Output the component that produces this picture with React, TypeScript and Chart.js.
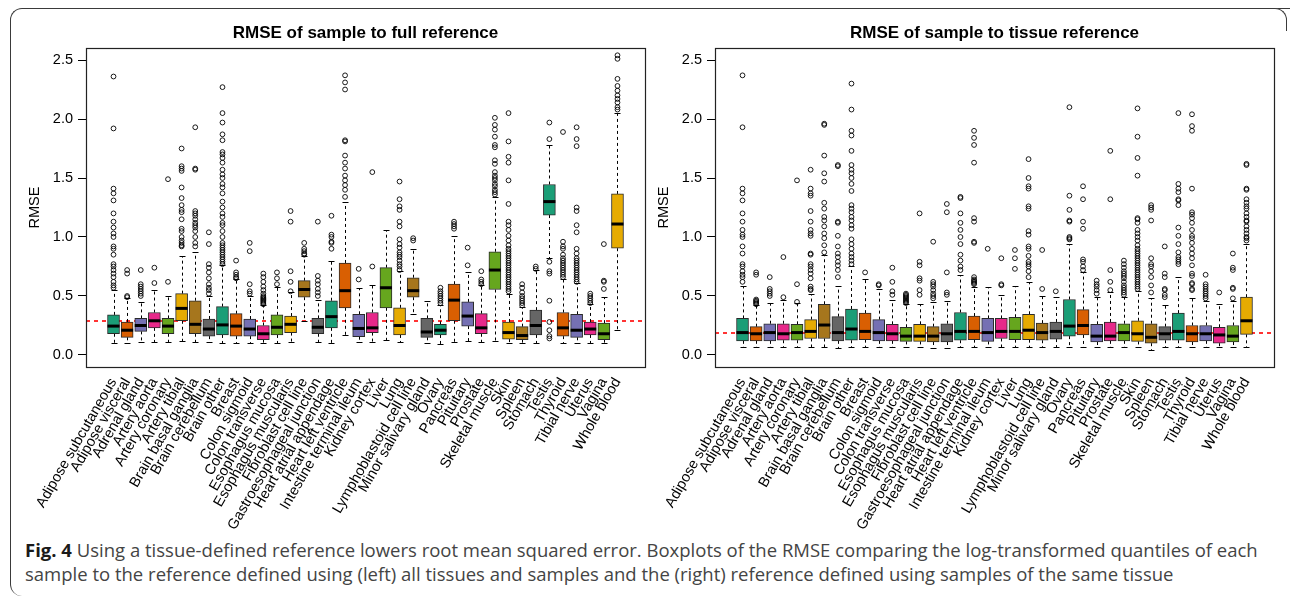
import React, { useEffect, useRef } from "react";
import { Chart, registerables } from "chart.js";
Chart.register(...registerables);

const tissues = [
  "Adipose subcutaneous", "Adipose visceral", "Adrenal gland", "Artery aorta", "Artery coronary",
  "Artery tibial", "Brain basal ganglia", "Brain cerebellum", "Brain other", "Breast",
  "Colon sigmoid", "Colon transverse", "Esophagus mucosa", "Esophagus muscularis", "Fibroblast cell line",
  "Gastroesophageal junction", "Heart atrial appendage", "Heart left ventricle", "Intestine terminal ileum", "Kidney cortex",
  "Liver", "Lung", "Lymphoblastoid cell line", "Minor salivary gland", "Ovary",
  "Pancreas", "Pituitary", "Prostate", "Skeletal muscle", "Skin",
  "Spleen", "Stomach", "Testis", "Thyroid", "Tibial nerve",
  "Uterus", "Vagina", "Whole blood",
];

const palette = ["#1B9E77", "#D95F02", "#7570B3", "#E7298A", "#66A61E", "#E6AB02", "#A6761D", "#666666"];

const yTicks = [0, 0.5, 1, 1.5, 2, 2.5];

// ---------- Left panel: sample to full reference ----------
const fullQ1 = [0.18, 0.15, 0.20, 0.23, 0.18, 0.29, 0.18, 0.16, 0.17, 0.16, 0.16, 0.13, 0.17, 0.19, 0.49, 0.18, 0.23, 0.40, 0.155, 0.19, 0.40, 0.17, 0.49, 0.15, 0.17, 0.29, 0.245, 0.18, 0.555, 0.135, 0.13, 0.17, 1.186, 0.16, 0.15, 0.17, 0.13, 0.905];
const fullMedian = [0.245, 0.21, 0.25, 0.29, 0.245, 0.395, 0.26, 0.22, 0.255, 0.245, 0.22, 0.18, 0.235, 0.26, 0.555, 0.235, 0.325, 0.545, 0.225, 0.23, 0.57, 0.25, 0.545, 0.195, 0.21, 0.465, 0.33, 0.23, 0.72, 0.19, 0.165, 0.25, 1.30, 0.23, 0.21, 0.22, 0.18, 1.11];
const fullQ3 = [0.34, 0.28, 0.31, 0.36, 0.31, 0.52, 0.46, 0.305, 0.41, 0.35, 0.305, 0.25, 0.34, 0.33, 0.63, 0.31, 0.46, 0.78, 0.345, 0.36, 0.74, 0.40, 0.655, 0.31, 0.26, 0.60, 0.45, 0.35, 0.875, 0.28, 0.24, 0.38, 1.445, 0.36, 0.345, 0.28, 0.27, 1.365];
const fullLow = [0.10, 0.10, 0.11, 0.11, 0.11, 0.12, 0.11, 0.11, 0.10, 0.10, 0.10, 0.10, 0.10, 0.11, 0.29, 0.11, 0.10, 0.17, 0.11, 0.11, 0.13, 0.11, 0.35, 0.10, 0.09, 0.11, 0.12, 0.11, 0.12, 0.10, 0.10, 0.10, 0.82, 0.10, 0.10, 0.10, 0.10, 0.21];
const fullHigh = [0.55, 0.48, 0.45, 0.55, 0.50, 0.84, 0.875, 0.50, 0.76, 0.64, 0.50, 0.42, 0.58, 0.53, 0.84, 0.47, 0.80, 1.30, 0.57, 0.59, 1.06, 0.71, 0.90, 0.46, 0.42, 1.01, 0.70, 0.59, 1.34, 0.52, 0.41, 0.72, 1.78, 0.64, 0.61, 0.43, 0.49, 2.05];
const fullOutliers = [
  [0.57, 0.59, 0.62, 0.66, 0.69, 0.72, 0.75, 0.77, 0.85, 0.90, 0.92, 1.00, 1.03, 1.08, 1.13, 1.20, 1.31, 1.37, 1.41, 1.92, 2.36],
  [0.49, 0.50, 0.69, 0.72],
  [0.50, 0.52, 0.54, 0.56, 0.58, 0.60, 0.72],
  [0.61, 0.74],
  [0.62, 1.49],
  [0.92, 0.93, 0.95, 0.97, 1.00, 1.05, 1.07, 1.15, 1.21, 1.23, 1.27, 1.33, 1.42, 1.56, 1.58, 1.60, 1.75],
  [0.92, 0.95, 1.00, 1.05, 1.08, 1.10, 1.12, 1.15, 1.18, 1.20, 1.22, 1.57, 1.58, 1.93],
  [0.52, 0.55, 0.57, 0.60, 0.65, 0.70, 0.74, 0.77, 0.94, 1.04],
  [0.77, 0.79, 0.81, 0.83, 0.85, 0.87, 0.89, 0.91, 0.93, 0.95, 1.00, 1.05, 1.10, 1.12, 1.17, 1.20, 1.25, 1.30, 1.37, 1.42, 1.45, 1.50, 1.53, 1.57, 1.63, 1.67, 1.70, 1.72, 1.82, 1.87, 1.97, 2.05, 2.27],
  [0.65, 0.66, 0.68, 0.70, 0.80],
  [0.52, 0.54, 0.60, 0.88, 0.95],
  [0.43, 0.44, 0.45, 0.46, 0.47, 0.48, 0.49, 0.50, 0.52, 0.55, 0.58, 0.62, 0.66, 0.69],
  [0.60, 0.65, 0.70],
  [0.54, 0.62, 0.71, 1.13, 1.22],
  [0.85, 0.86, 0.88, 0.90, 0.95],
  [0.50, 0.53, 0.56, 0.60, 0.63, 0.67, 1.13],
  [0.90, 0.95, 0.96, 1.00, 1.02, 1.18],
  [1.34, 1.40, 1.44, 1.48, 1.52, 1.58, 1.63, 1.69, 1.81, 1.82, 2.25, 2.31, 2.37],
  [0.64, 0.73],
  [0.75, 1.55],
  [],
  [0.72, 0.75, 0.77, 0.80, 0.83, 0.85, 0.87, 0.91, 0.94, 0.98, 1.09, 1.13, 1.23, 1.26, 1.32, 1.47],
  [0.97, 0.99],
  [],
  [0.44, 0.46, 0.48, 0.50, 0.52, 0.54, 0.57],
  [1.07, 1.09, 1.11, 1.13],
  [0.76, 0.91],
  [0.60, 0.62, 0.64, 0.71],
  [1.36, 1.38, 1.40, 1.43, 1.45, 1.48, 1.50, 1.52, 1.55, 1.62, 1.65, 1.76, 1.78, 1.85, 1.91, 1.95, 2.01],
  [0.54, 0.56, 0.58, 0.60, 0.62, 0.64, 0.66, 0.68, 0.70, 0.72, 0.74, 0.76, 0.78, 0.80, 0.82, 0.84, 0.86, 0.88, 0.90, 0.93, 0.97, 1.01, 1.06, 1.10, 1.13, 1.28, 1.48, 1.63, 1.68, 1.81, 2.05],
  [0.42, 0.44, 0.46, 0.48, 0.50, 0.53, 0.57, 0.60],
  [0.73, 0.75],
  [0.14, 0.16, 0.21, 0.28, 0.46, 0.69, 0.71, 0.79, 1.83, 1.97],
  [0.66, 0.68, 0.70, 0.72, 0.74, 0.76, 0.78, 0.80, 0.82, 0.85, 0.90, 0.92, 0.96, 1.89],
  [0.62, 0.64, 0.66, 0.68, 0.70, 0.72, 0.74, 0.76, 0.78, 0.80, 0.82, 0.86, 0.90, 1.04, 1.10, 1.22, 1.25, 1.77, 1.83, 1.93],
  [0.44, 0.46, 0.48, 0.50, 0.52],
  [0.56, 0.62, 0.63, 0.94],
  [2.08, 2.10, 2.14, 2.17, 2.20, 2.24, 2.28, 2.34, 2.51, 2.54],
];
const fullRefLine = 0.29;

// ---------- Right panel: sample to tissue reference ----------
const tissueQ1 = [0.12, 0.12, 0.12, 0.125, 0.125, 0.14, 0.14, 0.12, 0.125, 0.13, 0.12, 0.12, 0.115, 0.115, 0.11, 0.11, 0.125, 0.13, 0.115, 0.14, 0.13, 0.13, 0.125, 0.135, 0.16, 0.17, 0.11, 0.12, 0.12, 0.115, 0.10, 0.125, 0.125, 0.11, 0.12, 0.10, 0.11, 0.175];
const tissueMedian = [0.19, 0.18, 0.19, 0.18, 0.19, 0.20, 0.254, 0.19, 0.22, 0.20, 0.19, 0.18, 0.16, 0.16, 0.16, 0.18, 0.20, 0.20, 0.19, 0.20, 0.20, 0.21, 0.19, 0.20, 0.245, 0.25, 0.16, 0.16, 0.19, 0.18, 0.15, 0.18, 0.20, 0.18, 0.18, 0.17, 0.16, 0.29];
const tissueQ3 = [0.31, 0.24, 0.265, 0.265, 0.26, 0.30, 0.43, 0.325, 0.39, 0.355, 0.30, 0.26, 0.235, 0.26, 0.24, 0.265, 0.36, 0.33, 0.31, 0.31, 0.32, 0.345, 0.27, 0.28, 0.47, 0.385, 0.26, 0.28, 0.265, 0.29, 0.265, 0.24, 0.355, 0.25, 0.25, 0.235, 0.25, 0.49];
const tissueLow = [0.065, 0.065, 0.065, 0.065, 0.07, 0.07, 0.07, 0.06, 0.065, 0.065, 0.065, 0.065, 0.065, 0.065, 0.06, 0.06, 0.065, 0.065, 0.065, 0.065, 0.065, 0.065, 0.065, 0.07, 0.07, 0.065, 0.065, 0.065, 0.065, 0.065, 0.04, 0.065, 0.065, 0.065, 0.065, 0.065, 0.065, 0.07];
const tissueHigh = [0.585, 0.42, 0.44, 0.47, 0.44, 0.52, 0.85, 0.585, 0.75, 0.64, 0.56, 0.47, 0.43, 0.43, 0.45, 0.46, 0.68, 0.58, 0.58, 0.51, 0.585, 0.62, 0.50, 0.49, 0.94, 0.70, 0.49, 0.53, 0.49, 0.54, 0.48, 0.42, 0.66, 0.48, 0.46, 0.43, 0.46, 0.94];
const tissueOutliers = [
  [0.62, 0.66, 0.68, 0.71, 0.75, 0.77, 0.86, 0.92, 1.00, 1.02, 1.06, 1.13, 1.20, 1.31, 1.37, 1.41, 1.93, 2.37],
  [0.43, 0.44, 0.45, 0.46, 0.47, 0.68, 0.70],
  [0.50, 0.52, 0.54, 0.56, 0.66],
  [0.49, 0.83],
  [0.45, 0.60, 1.48],
  [0.55, 0.56, 0.58, 0.65, 0.69, 0.72, 0.75, 0.77, 0.85, 0.86, 1.01, 1.03, 1.06, 1.13, 1.22, 1.35, 1.37, 1.41, 1.57],
  [0.87, 0.93, 0.99, 1.03, 1.09, 1.14, 1.17, 1.24, 1.29, 1.47, 1.54, 1.69, 1.95, 1.96],
  [0.66, 0.72, 0.76, 0.79, 0.83, 0.86, 0.92, 1.01, 1.12, 1.13, 1.60, 1.61],
  [0.77, 0.80, 0.83, 0.86, 0.90, 0.94, 0.98, 1.07, 1.10, 1.14, 1.17, 1.21, 1.24, 1.27, 1.39, 1.45, 1.50, 1.54, 1.57, 1.61, 1.73, 1.86, 1.90, 2.08, 2.30],
  [0.70],
  [0.59, 0.60],
  [0.51, 0.54, 0.62, 0.74],
  [0.44, 0.45, 0.46, 0.47, 0.48, 0.49, 0.50, 0.51, 0.52],
  [0.51, 0.55, 0.63, 0.65, 0.76, 0.79, 1.20],
  [0.48, 0.50, 0.52, 0.55, 0.58, 0.60, 0.62, 0.96],
  [0.51, 0.53, 0.70, 1.21, 1.28],
  [0.72, 0.75, 0.80, 0.85, 0.94, 1.00, 1.06, 1.12, 1.20, 1.33, 1.34],
  [0.60, 0.61, 0.62, 0.63, 0.64, 0.66, 0.95, 0.96, 1.13, 1.16, 1.63, 1.78, 1.84, 1.90],
  [0.90],
  [0.59, 0.60, 0.82],
  [0.73, 0.82, 0.89],
  [0.66, 0.71, 0.75, 0.77, 0.79, 0.84, 0.90, 0.92, 1.02, 1.05, 1.24, 1.26, 1.41, 1.43, 1.50, 1.66],
  [0.56, 0.89],
  [0.54],
  [0.98, 0.99, 1.00, 1.13, 1.14, 1.23, 1.35, 2.10],
  [0.72, 0.75, 0.79, 0.81, 1.07, 1.13, 1.32, 1.43],
  [0.52, 0.55, 0.58, 0.60, 0.63],
  [0.55, 0.62, 0.72, 1.32, 1.73],
  [0.51, 0.53, 0.55, 0.57, 0.59, 0.62, 0.65, 0.67, 0.69, 0.71, 0.74, 0.77, 0.80],
  [0.56, 0.58, 0.60, 0.62, 0.64, 0.66, 0.68, 0.70, 0.72, 0.74, 0.76, 0.78, 0.80, 0.82, 0.84, 0.86, 0.88, 0.90, 0.93, 0.97, 1.00, 1.03, 1.06, 1.12, 1.15, 1.16, 1.52, 1.67, 1.85, 2.09],
  [0.53, 0.59, 0.66, 0.71, 0.75, 0.77, 0.82, 1.14, 1.23, 1.25, 1.27],
  [0.49, 0.51, 0.55, 0.56, 0.66, 0.69, 0.92],
  [0.77, 0.79, 0.81, 0.83, 0.87, 0.94, 1.01, 1.08, 1.27, 1.31, 1.32, 1.38, 1.41, 1.45, 2.05],
  [0.55, 0.56, 0.60, 0.61, 0.67, 0.69, 0.76, 0.82, 0.86, 0.90, 0.95, 0.99, 1.01, 1.06, 1.12, 1.16, 1.19, 1.21, 1.41, 1.90, 1.94, 2.04],
  [0.48, 0.50, 0.52, 0.54, 0.56, 0.58, 0.60, 0.68],
  [0.53],
  [0.48, 0.56, 0.57, 0.72, 0.74, 0.86],
  [0.97, 0.99, 1.00, 1.03, 1.06, 1.09, 1.13, 1.14, 1.17, 1.20, 1.24, 1.26, 1.29, 1.32, 1.40, 1.41, 1.61, 1.62],
];
const tissueRefLine = 0.19;

const AXIS_FONT = "'Liberation Sans', Arial, Helvetica, sans-serif";

const boxExtras = {
  id: "boxExtras",
  beforeDatasetsDraw(chart: any, _args: any, opts: any) {
    const { ctx, chartArea } = chart;
    const xs = chart.scales.x;
    const ys = chart.scales.y;
    ctx.save();
    // reference line (drawn below the boxes)
    const yr = Math.round(ys.getPixelForValue(opts.refLine));
    ctx.strokeStyle = "rgba(255, 0, 0, 0.8)";
    ctx.lineWidth = 2;
    ctx.setLineDash([4, 4]);
    ctx.beginPath();
    ctx.moveTo(chartArea.left, yr);
    ctx.lineTo(chartArea.right, yr);
    ctx.stroke();
    // whiskers
    ctx.strokeStyle = "#000";
    ctx.lineWidth = 1;
    for (let i = 0; i < opts.q1.length; i++) {
      const x = Math.round(xs.getPixelForValue(i)) + 0.5;
      const yq1 = ys.getPixelForValue(opts.q1[i]);
      const yq3 = ys.getPixelForValue(opts.q3[i]);
      const yl = Math.round(ys.getPixelForValue(opts.low[i])) + 0.5;
      const yh = Math.round(ys.getPixelForValue(opts.high[i])) + 0.5;
      ctx.setLineDash([3, 3]);
      ctx.beginPath();
      ctx.moveTo(x, yq3);
      ctx.lineTo(x, yh);
      ctx.moveTo(x, yq1);
      ctx.lineTo(x, yl);
      ctx.stroke();
      ctx.setLineDash([]);
      ctx.beginPath();
      ctx.moveTo(x - 3, yh);
      ctx.lineTo(x + 3, yh);
      ctx.moveTo(x - 3, yl);
      ctx.lineTo(x + 3, yl);
      ctx.stroke();
    }
    ctx.restore();
  },
  afterDatasetsDraw(chart: any, _args: any, opts: any) {
    const { ctx, chartArea } = chart;
    const xs = chart.scales.x;
    const ys = chart.scales.y;
    ctx.save();
    ctx.strokeStyle = "#000";
    ctx.lineWidth = 3;
    for (let i = 0; i < opts.median.length; i++) {
      const x = xs.getPixelForValue(i);
      const ym = ys.getPixelForValue(opts.median[i]);
      ctx.beginPath();
      ctx.moveTo(x - 6, ym);
      ctx.lineTo(x + 6, ym);
      ctx.stroke();
    }
    ctx.strokeStyle = "#222";
    ctx.lineWidth = 1.2;
    ctx.strokeRect(chartArea.left + 0.5, chartArea.top + 0.5, chartArea.right - chartArea.left, chartArea.bottom - chartArea.top);
    ctx.fillStyle = "#000";
    ctx.font = `bold 17px ${AXIS_FONT}`;
    ctx.textAlign = "center";
    ctx.textBaseline = "alphabetic";
    ctx.fillText(opts.title, (chartArea.left + chartArea.right) / 2, 38);
    ctx.restore();
  },
};

const CW = 655;
const CH = 530;

type PanelProps = {
  left: number;
  title: string;
  q1: number[];
  median: number[];
  q3: number[];
  low: number[];
  high: number[];
  outliers: number[][];
  refLine: number;
};

function BoxPanel(p: PanelProps) {
  const ref = useRef<HTMLCanvasElement>(null);
  useEffect(() => {
    const points: { x: number; y: number }[] = [];
    p.outliers.forEach((arr, i) => arr.forEach((v) => points.push({ x: i, y: v })));
    const chart = new Chart(ref.current!, {
      type: "bar",
      data: {
        datasets: [
          {
            type: "bar",
            data: tissues.map((_, i) => ({ x: i, y: [p.q1[i], p.q3[i]] })) as any,
            backgroundColor: tissues.map((_, i) => palette[i % 8]),
            borderColor: "#2a2a2a",
            borderWidth: 1,
            borderSkipped: false,
            barThickness: 12,
          } as any,
          {
            type: "scatter",
            data: points,
            pointRadius: 2.4,
            pointBorderWidth: 0.9,
            pointBorderColor: "#000",
            pointBackgroundColor: "rgba(0,0,0,0)",
            showLine: false,
          } as any,
        ],
      },
      options: {
        responsive: false,
        animation: false,
        events: [],
        layout: { padding: { top: 48, right: 10, left: 0, bottom: 0 } },
        plugins: {
          legend: { display: false },
          tooltip: { enabled: false },
          title: { display: false },
          boxExtras: {
            q1: p.q1,
            median: p.median,
            q3: p.q3,
            low: p.low,
            high: p.high,
            refLine: p.refLine,
            title: p.title,
          },
        } as any,
        scales: {
          x: {
            type: "linear",
            min: -2.02,
            max: 39.02,
            offset: false,
            afterBuildTicks: (s: any) => {
              s.ticks = tissues.map((_, i) => ({ value: i }));
            },
            afterFit: (s: any) => {
              s.height = CH - 367;
            },
            grid: { display: false },
            border: { display: false },
            ticks: {
              autoSkip: false,
              minRotation: 60,
              maxRotation: 60,
              padding: 0,
              color: "#000",
              font: { family: AXIS_FONT, size: 14.5 },
              callback: (v: any) => tissues[v as number] ?? "",
            },
          },
          y: {
            type: "linear",
            min: -0.1017,
            max: 2.6017,
            afterBuildTicks: (s: any) => {
              s.ticks = yTicks.map((v) => ({ value: v }));
            },
            afterFit: (s: any) => {
              s.width = 86;
            },
            grid: { display: true, drawOnChartArea: false, drawTicks: true, tickLength: 8, color: "#000" },
            border: { display: false },
            ticks: {
              padding: 5,
              color: "#000",
              font: { family: AXIS_FONT, size: 14.5 },
              callback: (v: any) => Number(v).toFixed(1),
            },
            title: {
              display: true,
              text: "RMSE",
              color: "#000",
              font: { family: AXIS_FONT, size: 14.5 },
              padding: { top: 26, bottom: 0 },
            },
          },
        },
      },
      plugins: [boxExtras as any],
    });
    return () => chart.destroy();
  }, []);
  return (
    <canvas
      ref={ref}
      width={CW}
      height={CH}
      style={{ position: "absolute", left: p.left, top: 0, width: CW, height: CH }}
    />
  );
}

export default function App() {
  return (
    <div
      style={{
        position: "absolute",
        left: 0,
        top: 0,
        width: 1290,
        height: 597,
        overflow: "hidden",
        background: "#fff",
      }}
    >
      <div
        style={{
          position: "absolute",
          left: 10,
          top: 8,
          width: 1290,
          height: 587,
          borderTop: "1.5px solid #3a3a3a",
          borderLeft: "1.5px solid #3a3a3a",
          borderTopLeftRadius: 12,
          borderBottomLeftRadius: 12,
        }}
      />
      <div
        style={{
          position: "absolute",
          left: 1258,
          top: 8,
          width: 28,
          height: 22,
          borderTop: "1.5px solid #3a3a3a",
          borderRight: "1.5px solid #3a3a3a",
          borderTopRightRadius: 12,
          background: "#fff",
        }}
      />
      <BoxPanel
        left={0}
        title="RMSE of sample to full reference"
        q1={fullQ1}
        median={fullMedian}
        q3={fullQ3}
        low={fullLow}
        high={fullHigh}
        outliers={fullOutliers}
        refLine={fullRefLine}
      />
      <BoxPanel
        left={629}
        title="RMSE of sample to tissue reference"
        q1={tissueQ1}
        median={tissueMedian}
        q3={tissueQ3}
        low={tissueLow}
        high={tissueHigh}
        outliers={tissueOutliers}
        refLine={tissueRefLine}
      />
      <div
        style={{
          position: "absolute",
          left: 25,
          top: 538,
          fontFamily: "'Open Sans', 'Noto Sans', sans-serif",
          fontSize: 18.5,
          lineHeight: "24px",
          color: "#444",
          whiteSpace: "nowrap",
        }}
      >
        <div>
          <b style={{ color: "#1a1a1a" }}>Fig. 4</b> Using a tissue-defined reference lowers root mean squared error. Boxplots of the RMSE comparing the log-transformed quantiles of each
        </div>
        <div>
          sample to the reference defined using (left) all tissues and samples and the (right) reference defined using samples of the same tissue
        </div>
      </div>
    </div>
  );
}
